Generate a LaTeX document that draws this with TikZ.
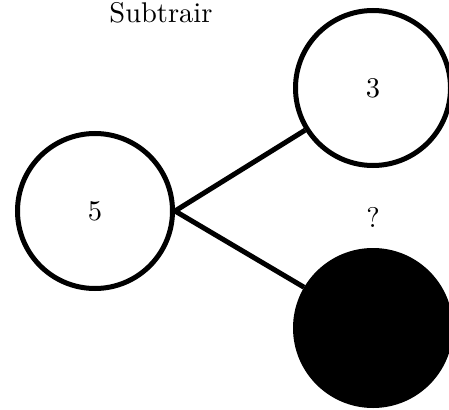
\documentclass[tikz,border=0pt]{standalone}
\newcommand{\bigtext}[1]{\scalebox{2.85}{#1}}
\begin{document}
\begin{tikzpicture}[x=1pt,y=-1pt,
  ball/.style={circle,draw,line width=5pt,minimum size=155pt,inner sep=0pt},
  link/.style={line width=5pt}]
  \useasboundingbox (0,0) rectangle (449,409);
  \clip (0,0) rectangle (449,409);
  % title
  \node (title) at (161,12.5) {\bigtext{Subtrair}};
  % the three circles
  \node[ball] (five) at (95,211) {\bigtext{5}};
  \node[ball] (three) at (373,88) {\bigtext{3}};
  \node[ball,fill=black] (hidden) at (373,328) {};
  \node (ask) at (373,217) {\bigtext{?}};
  % connections from the left circle
  \draw[link] (five.east) -- (three);
  \draw[link] (five.east) -- (hidden);
\end{tikzpicture}
\end{document}
